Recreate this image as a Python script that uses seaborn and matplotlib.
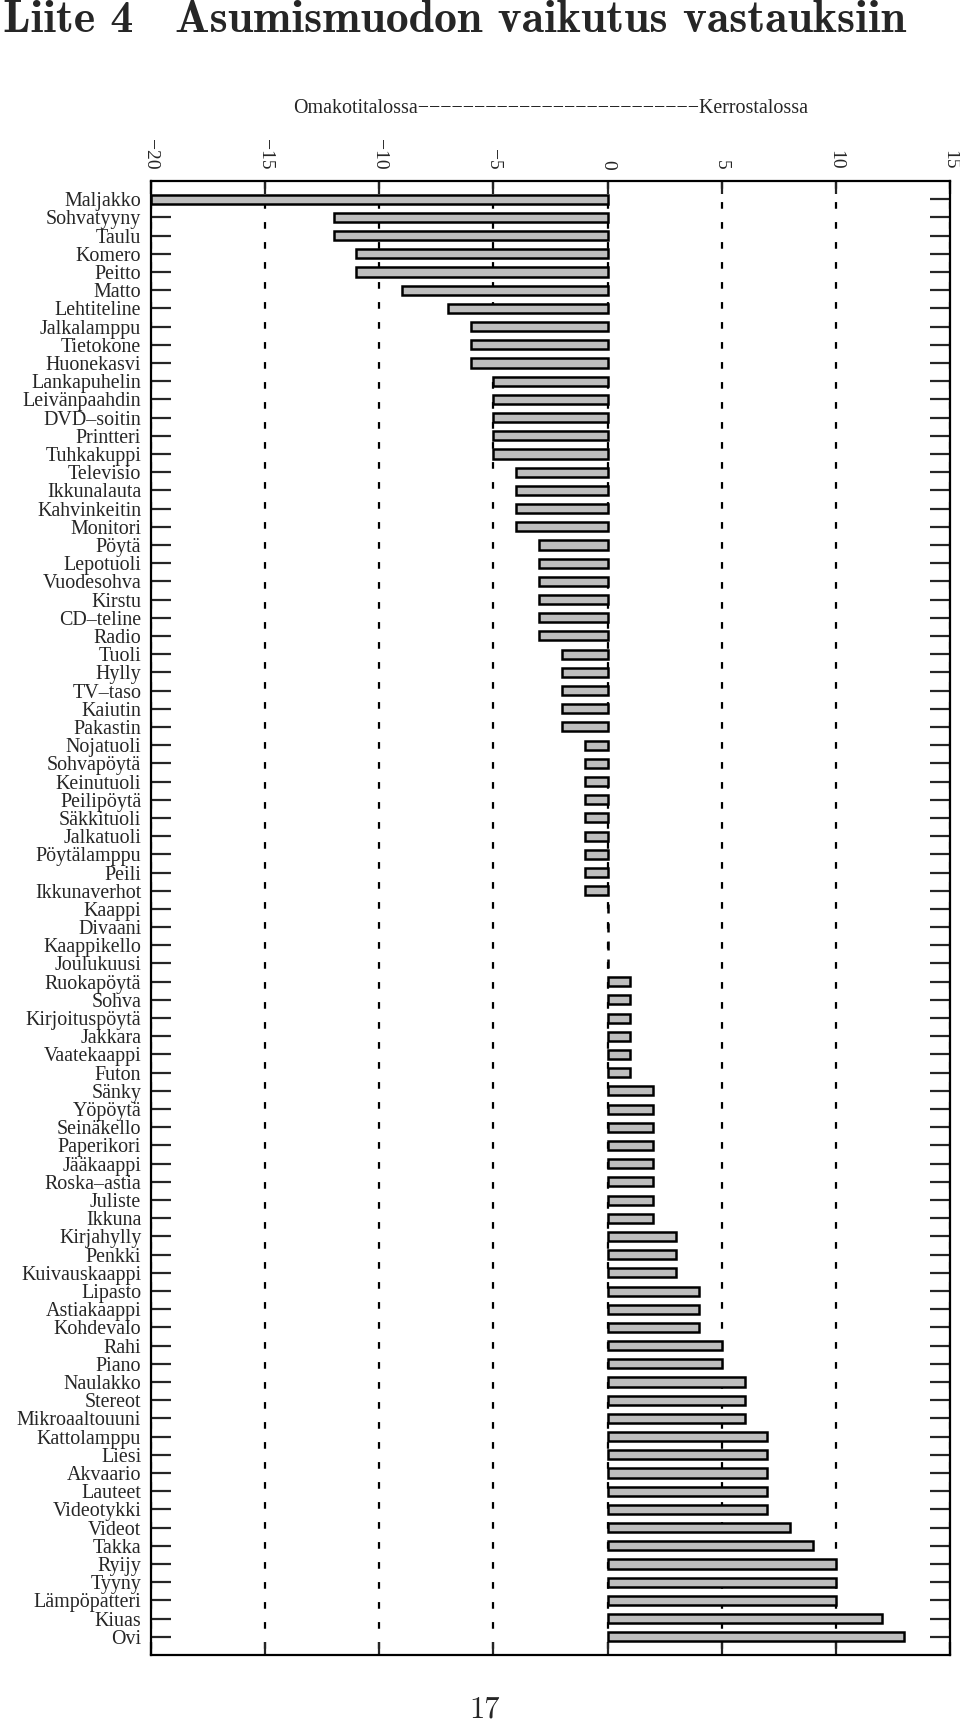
import matplotlib
matplotlib.use("Agg")
import matplotlib.pyplot as plt
import seaborn as sns
import pandas as pd

# esineet ylhäältä alas ja ero (kerrostalo - omakotitalo)
items = [
    "Maljakko", "Sohvatyyny", "Taulu", "Komero", "Peitto", "Matto", "Lehtiteline",
    "Jalkalamppu", "Tietokone", "Huonekasvi", "Lankapuhelin", "Leivänpaahdin",
    "DVD–soitin", "Printteri", "Tuhkakuppi", "Televisio", "Ikkunalauta",
    "Kahvinkeitin", "Monitori", "Pöytä", "Lepotuoli", "Vuodesohva", "Kirstu",
    "CD–teline", "Radio", "Tuoli", "Hylly", "TV–taso", "Kaiutin", "Pakastin",
    "Nojatuoli", "Sohvapöytä", "Keinutuoli", "Peilipöytä", "Säkkituoli",
    "Jalkatuoli", "Pöytälamppu", "Peili", "Ikkunaverhot", "Kaappi", "Divaani",
    "Kaappikello", "Joulukuusi", "Ruokapöytä", "Sohva", "Kirjoituspöytä",
    "Jakkara", "Vaatekaappi", "Futon", "Sänky", "Yöpöytä", "Seinäkello",
    "Paperikori", "Jääkaappi", "Roska–astia", "Juliste", "Ikkuna", "Kirjahylly",
    "Penkki", "Kuivauskaappi", "Lipasto", "Astiakaappi", "Kohdevalo", "Rahi",
    "Piano", "Naulakko", "Stereot", "Mikroaaltouuni", "Kattolamppu", "Liesi",
    "Akvaario", "Lauteet", "Videotykki", "Videot", "Takka", "Ryijy", "Tyyny",
    "Lämpöpatteri", "Kiuas", "Ovi",
]
scores = [
    -20, -12, -12, -11, -11, -9, -7,
    -6, -6, -6, -5, -5,
    -5, -5, -5, -4, -4,
    -4, -4, -3, -3, -3, -3,
    -3, -3, -2, -2, -2, -2, -2,
    -1, -1, -1, -1, -1,
    -1, -1, -1, -1, 0, 0,
    0, 0, 1, 1, 1,
    1, 1, 1, 2, 2, 2,
    2, 2, 2, 2, 2, 3,
    3, 3, 4, 4, 4, 5,
    5, 6, 6, 6, 7, 7,
    7, 7, 7, 8, 9, 10, 10,
    10, 12, 13,
]
xticks = [-20, -15, -10, -5, 0, 5, 10, 15]

sns.set_style("ticks")
plt.rcParams["font.family"] = ["Liberation Serif", "DejaVu Serif"]
plt.rcParams["lines.scale_dashes"] = False

df = pd.DataFrame({"esine": items, "ero": scores})

fig = plt.figure(figsize=(9.6, 17.21), dpi=100)
ax = fig.add_axes([151 / 960, 1 - 1655 / 1721, 799 / 960, 1474 / 1721])

sns.barplot(data=df, x="ero", y="esine", orient="h", color="#bebebe",
            saturation=1, edgecolor="black", linewidth=1.8, width=0.5, ax=ax)

ax.set_xlim(-20, 15)
ax.set_ylim(80, -1)
ax.set_xticks(xticks)
ax.set_xlabel("")
ax.set_ylabel("")
ax.set_axisbelow(True)
ax.grid(axis="x", color="black", linewidth=1.6, linestyle=(9.9, (4.8, 9.6)))

ax.tick_params(axis="x", direction="in", length=9.4, width=1.6, top=True,
               bottom=True, labeltop=True, labelbottom=False,
               labelrotation=-90, labelsize=14, pad=8)
ax.tick_params(axis="y", direction="in", length=14.4, width=1.6, left=True,
               right=True, labelsize=14.4, pad=7)
for s in ax.spines.values():
    s.set_visible(True)
    s.set_linewidth(1.6)
    s.set_color("black")

# otsikot
fig.text(3 / 960, 1 - 32 / 1721, "Liite 4", family=["cmb10", "DejaVu Serif"],
         fontsize=33, va="baseline")
fig.text(175 / 960, 1 - 32 / 1721, "Asumismuodon vaikutus vastauksiin",
         family=["cmb10", "DejaVu Serif"], fontsize=33, va="baseline")
fig.text(551 / 960, 1 - 113 / 1721, "Omakotitalossa" + "−" * 25 + "Kerrostalossa",
         fontsize=14.4, ha="center", va="baseline")
fig.text(485 / 960, 1 - 1717 / 1721, "17", family=["cmr10", "DejaVu Serif"],
         fontsize=22, ha="center", va="baseline")

fig.savefig("out.png", dpi=100)
